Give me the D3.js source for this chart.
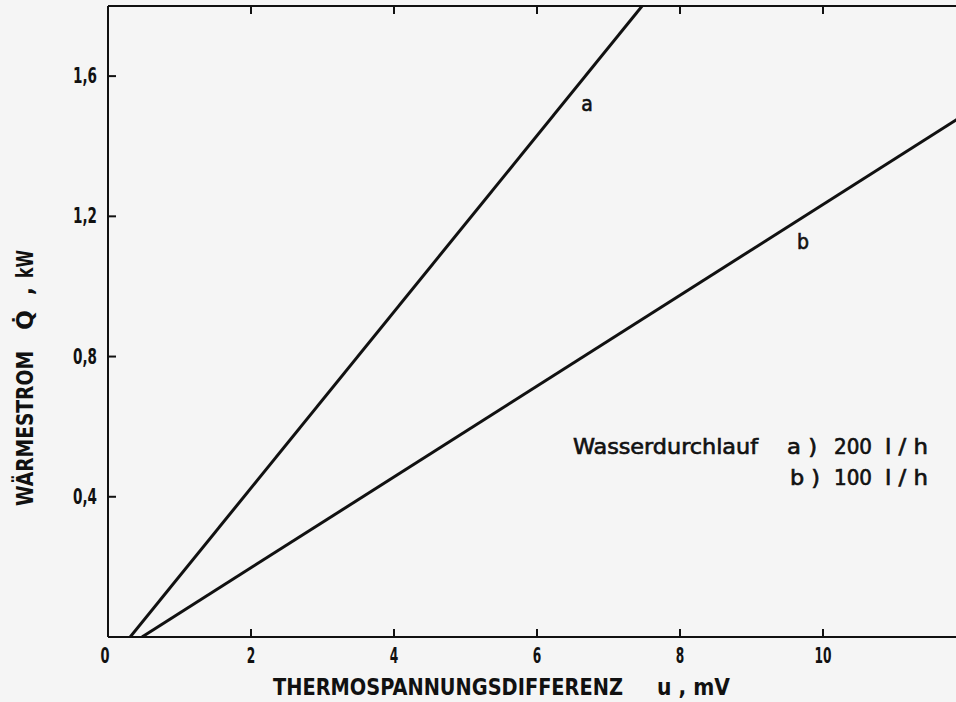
<!DOCTYPE html>
<html>
<head>
<meta charset="utf-8">
<script src="https://cdn.jsdelivr.net/npm/d3@7"></script>
<style>
  html, body { margin: 0; padding: 0; background: #f5f5f5; }
  svg { display: block; }
  .tick-label { font-family: "Liberation Sans Narrow", "DejaVu Sans Condensed", sans-serif; font-weight: bold; font-size: 21px; fill: #111; }
  .title { font-family: "Liberation Sans Narrow", "DejaVu Sans Condensed", sans-serif; font-weight: bold; font-size: 23px; fill: #111; }
  .legend { font-family: "DejaVu Sans Condensed", "DejaVu Sans", sans-serif; font-size: 21px; fill: #111; stroke: #111; stroke-width: 0.6px; }
</style>
</head>
<body>
<svg id="chart" width="956" height="702"></svg>
<script>
// Thermospannungsdifferenz u (mV) against Wärmestrom Q̇ (kW)
const xTicks = [2, 4, 6, 8, 10];
const xTickLabels = ["2", "4", "6", "8", "10"];
const yTicks = [0.4, 0.8, 1.2, 1.6];
const yTickLabels = ["0,4", "0,8", "1,2", "1,6"];

// straight calibration lines, endpoints as (u, Q)
const seriesA_u = [0.31, 7.47];
const seriesA_q = [0, 1.8];
const seriesB_u = [0.475, 11.9];
const seriesB_q = [0, 1.48];

const legendTitle = "Wasserdurchlauf";
const legendRows = [["a )", "200", "l / h"], ["b )", "100", "l / h"]];

const svg = d3.select("#chart");
const W = 956, H = 702;
const plotLeft = 108, plotTop = 6, plotBottom = 637;

const x = d3.scaleLinear().domain([0, 11.86]).range([plotLeft, W]);
const y = d3.scaleLinear().domain([0, 1.8]).range([plotBottom, plotTop]);

// frame: left, top and bottom lines
const frame = svg.append("g").attr("stroke", "#111").attr("stroke-width", 2).attr("fill", "none");
frame.append("line").attr("x1", x(0)).attr("x2", x(0)).attr("y1", y(1.8)).attr("y2", y(0));
frame.append("line").attr("x1", x(0)).attr("x2", W).attr("y1", y(1.8)).attr("y2", y(1.8));
frame.append("line").attr("x1", x(0)).attr("x2", W).attr("y1", y(0)).attr("y2", y(0));

// inward ticks
const tk = 8;
frame.selectAll(".xb").data(xTicks).enter().append("line")
  .attr("x1", d => x(d)).attr("x2", d => x(d)).attr("y1", y(0)).attr("y2", y(0) - tk);
frame.selectAll(".xt").data(xTicks).enter().append("line")
  .attr("x1", d => x(d)).attr("x2", d => x(d)).attr("y1", y(1.8)).attr("y2", y(1.8) + tk);
frame.selectAll(".yl").data(yTicks).enter().append("line")
  .attr("x1", x(0)).attr("x2", x(0) + tk).attr("y1", d => y(d)).attr("y2", d => y(d));

// tick labels (narrow digits, about 8px each)
svg.selectAll(".xlab").data(xTicks).enter().append("text")
  .attr("class", "tick-label").attr("x", d => x(d)).attr("y", y(0) + 26)
  .attr("text-anchor", "middle")
  .attr("textLength", (d, i) => xTickLabels[i].length * 8.5).attr("lengthAdjust", "spacingAndGlyphs")
  .text((d, i) => xTickLabels[i]);
svg.append("text").attr("class", "tick-label").attr("x", x(0) - 3).attr("y", y(0) + 26)
  .attr("text-anchor", "middle").attr("textLength", 9).attr("lengthAdjust", "spacingAndGlyphs").text("0");
svg.selectAll(".ylab").data(yTicks).enter().append("text")
  .attr("class", "tick-label").attr("x", x(0) - 35).attr("y", d => y(d) + 7)
  .attr("textLength", 24).attr("lengthAdjust", "spacingAndGlyphs")
  .text((d, i) => yTickLabels[i]);

// lines
const line = d3.line().x(d => x(d[0])).y(d => y(d[1]));
const ptsA = seriesA_u.map((u, i) => [u, seriesA_q[i]]);
const ptsB = seriesB_u.map((u, i) => [u, seriesB_q[i]]);
svg.append("defs").append("clipPath").attr("id", "plot")
  .append("rect").attr("x", x(0)).attr("y", y(1.8)).attr("width", W - x(0)).attr("height", y(0) - y(1.8));
const lines = svg.append("g").attr("clip-path", "url(#plot)")
  .attr("fill", "none").attr("stroke", "#111").attr("stroke-width", 3);
lines.append("path").attr("d", line(ptsA));
lines.append("path").attr("d", line(ptsB));

// line labels
svg.append("text").attr("class", "legend").attr("x", x(6.7)).attr("y", y(1.52) + 7)
  .attr("text-anchor", "middle").text("a");
svg.append("text").attr("class", "legend").attr("x", x(9.72)).attr("y", y(1.13) + 8)
  .attr("text-anchor", "middle").text("b");

// legend
svg.append("text").attr("class", "legend").attr("x", 573).attr("y", 454)
  .attr("textLength", 185).attr("lengthAdjust", "spacingAndGlyphs").text(legendTitle);
legendRows.forEach((r, i) => {
  const yy = 454 + i * 31;
  svg.append("text").attr("class", "legend").attr("x", 787 + (i ? 3 : 0)).attr("y", yy)
    .attr("textLength", 30).attr("lengthAdjust", "spacingAndGlyphs").text(r[0]);
  svg.append("text").attr("class", "legend").attr("x", 834).attr("y", yy)
    .attr("textLength", 38).attr("lengthAdjust", "spacingAndGlyphs").text(r[1]);
  svg.append("text").attr("class", "legend").attr("x", 885).attr("y", yy)
    .attr("textLength", 43).attr("lengthAdjust", "spacingAndGlyphs").text(r[2]);
});

// axis titles
svg.append("text").attr("class", "title").attr("x", 273).attr("y", 695)
  .attr("textLength", 350).attr("lengthAdjust", "spacingAndGlyphs").text("THERMOSPANNUNGSDIFFERENZ");
svg.append("text").attr("class", "title").attr("x", 657).attr("y", 695)
  .attr("textLength", 73).attr("lengthAdjust", "spacingAndGlyphs").text("u , mV");

const yt = svg.append("g").attr("transform", "translate(33,506) rotate(-90)");
yt.append("text").attr("class", "title").attr("x", 0).attr("y", 0)
  .attr("textLength", 155).attr("lengthAdjust", "spacingAndGlyphs").text("WÄRMESTROM");
yt.append("text").attr("class", "title").attr("x", 176).attr("y", 0)
  .attr("textLength", 20).attr("lengthAdjust", "spacingAndGlyphs").text("Q\u0307");
yt.append("text").attr("class", "title").attr("x", 211).attr("y", 0).text(",");
yt.append("text").attr("class", "title").attr("x", 228).attr("y", 0)
  .attr("textLength", 28).attr("lengthAdjust", "spacingAndGlyphs").text("kW");
</script>
</body>
</html>
